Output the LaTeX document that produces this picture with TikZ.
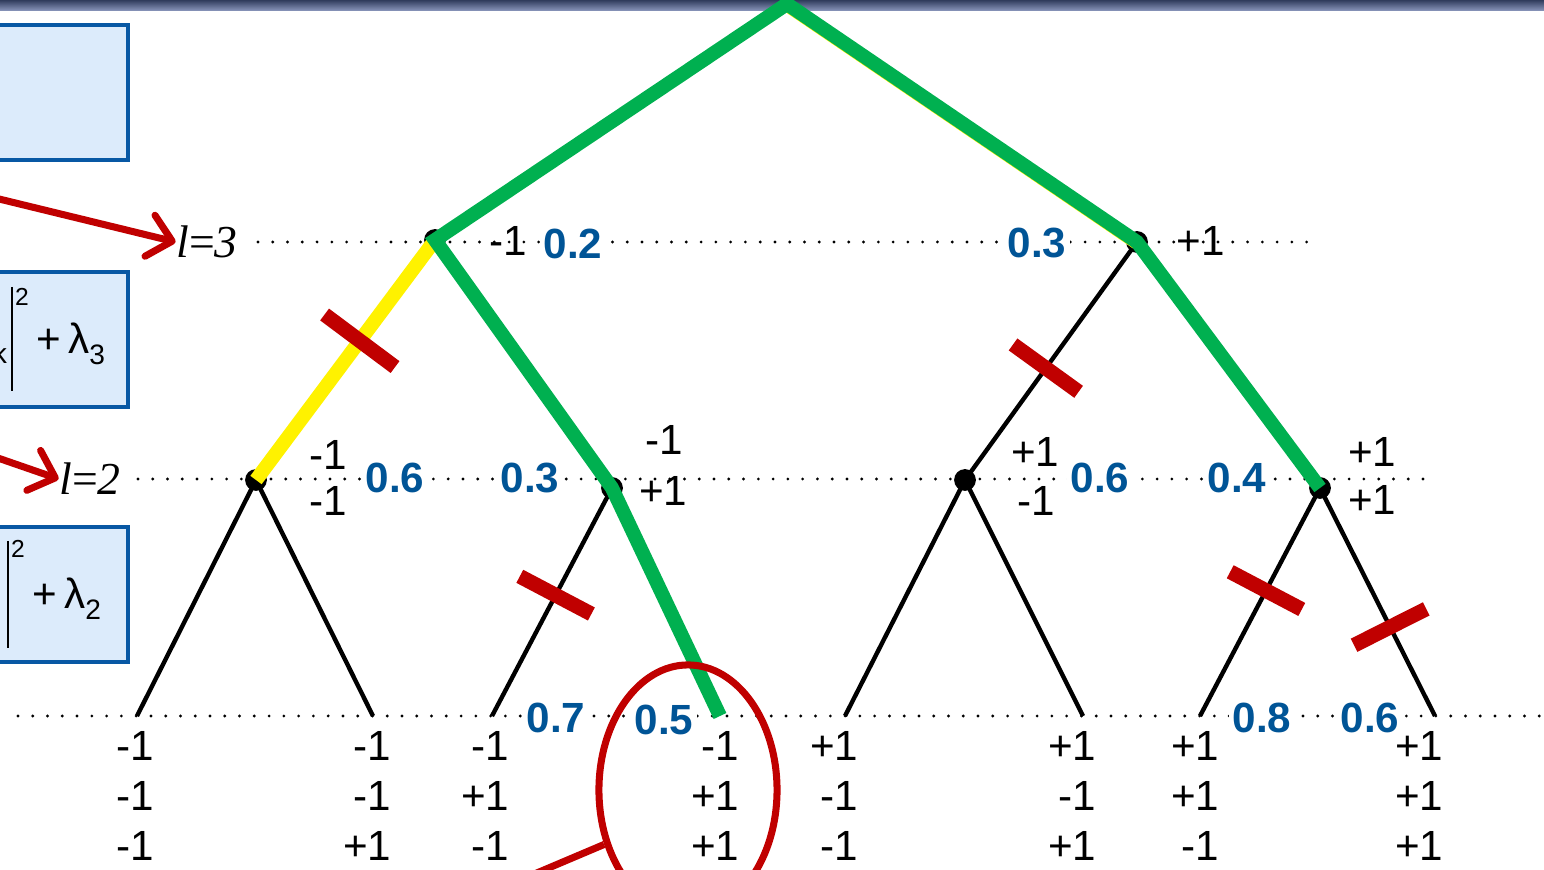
\documentclass[tikz,border=0pt]{standalone}
\usepackage{fontspec}
\setmainfont{Liberation Sans}
\newfontfamily\levelfont{Liberation Serif}
\usepackage{tikz}
\usetikzlibrary{arrows.meta, shapes.geometric}

\definecolor{cutred}{RGB}{192,0,0}
\definecolor{bestgreen}{RGB}{0,176,80}
\definecolor{probblue}{RGB}{0,84,150}
\definecolor{boxfill}{RGB}{220,235,251}
\definecolor{boxline}{RGB}{8,88,164}
\definecolor{bardark}{RGB}{48,60,92}
\definecolor{barlight}{RGB}{140,152,190}

\begin{document}
\begin{tikzpicture}[
    x=0.01cm, y=-0.01cm,
    % Tree joints
    joint/.style={circle, fill=black, inner sep=0pt, minimum size=6.2pt},
    % Plain tree edge
    branch/.style={black, line width=1.25pt},
    % Chosen path
    best/.style={bestgreen, line width=4pt},
    % Pruned edge marker
    cut/.style={sloped, fill=cutred, inner sep=0pt,
        minimum width=4.2pt, minimum height=23pt},
    % Level guide
    guide/.style={line width=0.9pt, line cap=round, dash pattern=on 0pt off 4.2pt},
    % Sign labels
    sign/.style={font=\fontsize{12}{14}\selectfont, inner sep=0pt},
    leafval/.style={font=\fontsize{12}{14.2}\selectfont, inner sep=0pt,
        anchor=north east, align=right},
    % Probability labels
    prob/.style={font=\fontsize{12}{14}\selectfont\bfseries, text=probblue,
        fill=white, inner sep=1pt},
    % Level names
    level/.style={font=\levelfont\fontsize{13}{15}\selectfont, inner sep=0pt},
    % Side boxes
    sidebox/.style={draw=boxline, fill=boxfill, line width=1.1pt},
    pointer/.style={cutred, line width=2pt, -{Straight Barb[length=6.5pt, width=12pt, round]}},
]

\useasboundingbox (0,0) rectangle (1544,870);
\clip (0,0) rectangle (1544,870);

% Level heights
\def\ythree{242}
\def\ytwo{479}
\def\yleaf{716}

% Title bar
\shade[top color=bardark, bottom color=barlight] (0,0) rectangle (1544,11);

% Side boxes (cut off at the left)
\draw[sidebox] (-10,25) rectangle (128,160);
\draw[sidebox] (-10,272) rectangle (128,407);
\draw[sidebox] (-10,527) rectangle (128,662);

\node[font=\fontsize{8}{9}\selectfont, inner sep=0pt] (kbit) at (0,353) {k};
\draw[line width=0.5pt] (12,287) -- (12,391);
\node[font=\fontsize{7}{8}\selectfont, inner sep=0pt] (sqa) at (22,297) {2};
\node[font=\fontsize{12}{14}\selectfont, inner sep=0pt, anchor=base west] (lama) at (36,354)
    {+\,λ\raisebox{-0.45ex}{\fontsize{8}{9}\selectfont 3}};

\draw[line width=0.5pt] (8,541) -- (8,648);
\node[font=\fontsize{7}{8}\selectfont, inner sep=0pt] (sqb) at (18,549) {2};
\node[font=\fontsize{12}{14}\selectfont, inner sep=0pt, anchor=base west] (lamb) at (32,609)
    {+\,λ\raisebox{-0.45ex}{\fontsize{8}{9}\selectfont 2}};

% Level guides
\draw[guide] (258,\ythree) -- (1310,\ythree);
\draw[guide] (138,\ytwo) -- (1430,\ytwo);
\draw[guide] (18,\yleaf) -- (1544,\yleaf);

% Level names and pointers
\node[level] (lthree) at (207,\ythree) {\itshape l\upshape=\itshape 3};
\node[level] (ltwo) at (90,\ytwo) {\itshape l\upshape=\itshape 2};
\coordinate (pthree) at (-5,198);
\coordinate (ptwo) at (-5,457);
\draw[pointer] (pthree) -- (lthree.west);
\draw[pointer] (ptwo) -- (ltwo.west);

% Tree
\coordinate (root) at (787,4);
\node[joint] (nl) at (435,240) {};
\node[joint] (nr) at (1137,242) {};
\node[joint] (na) at (256,480) {};
\node[joint] (nb) at (612,488) {};
\node[joint] (nc) at (965,480) {};
\node[joint] (nd) at (1320,488) {};
\foreach \x [count=\i] in {137,373,492,720,845,1083,1200,1435}
    \coordinate (leaf\i) at (\x,\yleaf);

\draw[branch] (nr.center) -- (nc.center);
\draw[branch] (na.center) -- (leaf1);
\draw[branch] (na.center) -- (leaf2);
\draw[branch] (nb.center) -- (leaf3);
\draw[branch] (nc.center) -- (leaf5);
\draw[branch] (nc.center) -- (leaf6);
\draw[branch] (nd.center) -- (leaf7);
\draw[branch] (nd.center) -- (leaf8);

% Chosen path
\draw[yellow, line width=4pt] (nl.center) -- (na.center);
\draw[yellow, line width=1pt] ([shift={(-3,5)}]root) -- ([shift={(-3,5)}]nr.center);
\draw[best] (leaf4) -- (nb.center) -- (nl.center) -- (root) -- (nr.center) -- (nd.center);

% Pruned edges
\path (nl.center) -- (na.center) node[cut, pos=0.42, minimum height=25pt] (cuta) {};
\path (nr.center) -- (nc.center) node[cut, pos=0.53] (cutb) {};
\path (nb.center) -- (leaf3) node[cut, pos=0.47] (cutc) {};
\path (nd.center) -- (leaf7) node[cut, pos=0.45] (cutd) {};
\path (nd.center) -- (leaf8) node[cut, pos=0.61] (cute) {};

% Signs at the joints
\node[sign, anchor=west] (sl) at (489,241) {-1};
\node[sign, anchor=west] (sr) at (1176,241) {+1};
\node[sign, anchor=east] (saa) at (348,455) {-1};
\node[sign, anchor=east] (sab) at (348,501) {-1};
\node[sign, anchor=east] (sba) at (684,440) {-1};
\node[sign, anchor=east] (sbb) at (688,491) {+1};
\node[sign, anchor=east] (sca) at (1060,452) {+1};
\node[sign, anchor=east] (scb) at (1056,501) {-1};
\node[sign, anchor=east] (sda) at (1397,452) {+1};
\node[sign, anchor=east] (sdb) at (1397,500) {+1};

% Leaf sign vectors
\foreach \x/\a/\b/\c [count=\i] in {155/-1/-1/-1, 392/-1/-1/+1, 510/-1/+1/-1,
        740/-1/+1/+1, 859/+1/-1/-1, 1097/+1/-1/+1, 1220/+1/+1/-1, 1444/+1/+1/+1}
    \node[leafval] (val\i) at (\x,731) {\a\\\b\\\c};

% Probabilities
\node[prob] (pl) at (573,244) {0.2};
\node[prob] (pr) at (1037,243) {0.3};
\node[prob] (pa) at (395,478) {0.6};
\node[prob] (pb) at (530,478) {0.3};
\node[prob] (pc) at (1100,478) {0.6};
\node[prob] (pd) at (1237,478) {0.4};
\node[prob] (pf) at (556,718) {0.7};
\node[prob] (pg) at (664,720) {0.5};
\node[prob] (ph) at (1262,718) {0.8};
\node[prob] (pi) at (1370,718) {0.6};

% Marked leaf
\node[draw=cutred, line width=2pt, ellipse, minimum width=1.78cm, minimum height=2.5cm]
    (mark) at (688,790) {};
\coordinate (markfoot) at (525,878);
\draw[cutred, line width=2pt] (markfoot) -- (mark.213);

\end{tikzpicture}
\end{document}
